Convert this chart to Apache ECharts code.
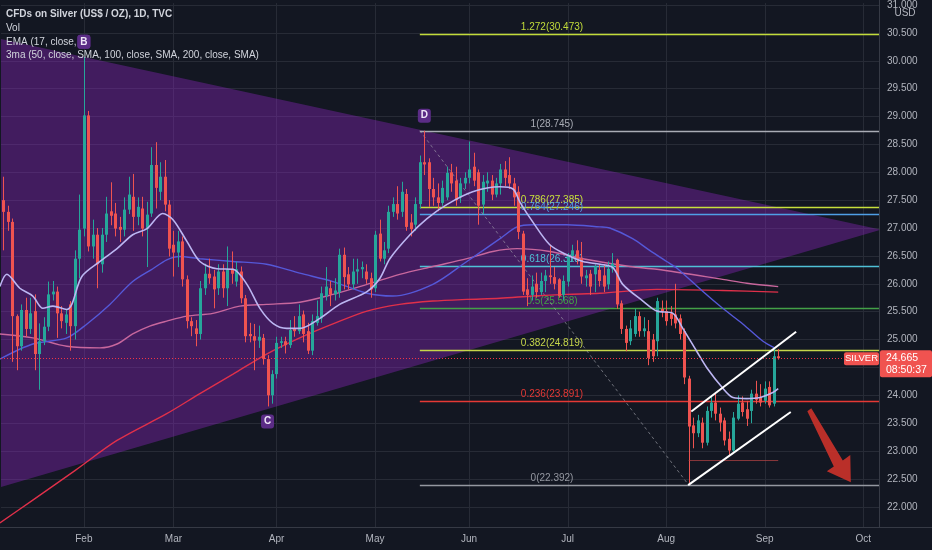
<!DOCTYPE html>
<html>
<head>
<meta charset="utf-8">
<script src="https://cdn.jsdelivr.net/npm/echarts@6.0.0/dist/echarts.min.js"></script>
<style>
html,body{margin:0;padding:0;background:#131722;overflow:hidden}
#chart{width:932px;height:550px}
</style>
</head>
<body>
<div id="chart"></div>
<script>
// ---------------- data ----------------
// bar index t = trading days counted from 2021-02-01 (t = 0); the first category is 2021-01-06 (t = -18)
const FIRST_DAY = '2021-01-06';
const FIRST_T = -18;
const N_DAYS = 196;
const MONTHS = ['Jan','Feb','Mar','Apr','May','Jun','Jul','Aug','Sep','Oct','Nov','Dec'];

// [open, high, low, close], one per trading day from 2021-01-06 to 2021-09-06
const OHLC = [
[27.50,27.92,26.60,27.29],[27.29,27.40,26.95,27.11],[27.11,27.17,24.60,25.42],[25.42,25.45,24.45,24.88],
[24.88,25.63,24.80,25.53],[25.53,25.75,25.05,25.19],[25.19,25.75,25.10,25.47],[25.51,25.81,24.45,24.74],
[24.74,25.29,24.10,24.97],[24.97,25.40,24.90,25.23],[25.23,26.04,25.15,25.81],[25.81,26.05,25.70,25.86],
[25.86,25.95,25.03,25.47],[25.47,25.60,25.20,25.33],[25.30,25.55,25.10,25.45],[25.63,25.69,24.80,25.24],
[25.24,26.60,25.00,26.45],[26.45,27.60,26.10,26.97],
[26.99,30.07,26.85,29.02],[29.02,29.10,26.58,26.67],[26.67,27.15,26.45,26.88],[26.88,27.00,25.92,26.35],
[26.35,27.00,26.20,26.88],[26.88,27.56,26.75,27.26],[27.30,27.82,27.05,27.22],[27.26,27.45,26.85,26.99],
[27.02,27.20,26.75,26.97],[26.97,27.55,26.85,27.33],[27.33,27.92,27.25,27.60],[27.56,27.97,26.95,27.20],
[27.20,27.55,27.05,27.38],[27.35,27.56,26.85,26.99],[26.99,27.47,26.30,27.24],[27.26,28.45,27.20,28.13],
[28.13,28.54,27.35,27.72],[27.65,28.18,27.50,27.92],[27.92,28.22,27.30,27.42],[27.42,27.50,26.49,26.63],
[26.70,26.95,26.13,26.56],[26.56,26.95,26.30,26.76],[26.76,26.85,25.95,26.08],[26.08,26.15,25.20,25.33],
[25.33,25.40,25.06,25.24],[25.20,25.35,24.88,25.10],[25.10,26.05,25.00,25.92],[25.92,26.36,25.80,26.18],
[26.18,26.45,26.00,26.10],[26.13,26.25,25.56,25.90],[25.92,26.35,25.80,26.22],[26.22,26.35,25.75,25.92],
[25.92,26.67,25.60,26.26],[26.27,26.58,26.00,26.18],[26.04,26.40,25.95,26.26],[26.22,26.31,25.65,25.74],
[25.74,25.80,24.95,25.06],[25.10,25.30,24.95,25.06],[25.06,25.28,24.45,24.98],[24.98,25.25,24.85,25.05],
[25.03,25.10,24.55,24.65],[24.65,24.72,23.80,24.00],[24.00,24.45,23.85,24.38],
[24.38,25.05,24.30,24.94],[24.94,25.05,24.85,24.97],[24.97,25.05,24.75,24.90],[24.90,25.35,24.85,25.17],
[25.20,25.42,25.05,25.15],[25.15,25.63,25.10,25.42],[25.45,25.52,24.95,25.10],[25.15,25.30,24.74,24.80],
[24.80,25.45,24.72,25.33],[25.30,25.70,25.25,25.42],[25.38,25.95,25.30,25.83],[25.78,26.30,25.70,25.95],
[25.92,26.05,25.60,25.81],[25.81,26.10,25.70,25.88],[25.85,26.63,25.75,26.52],[26.52,26.65,25.90,26.12],
[26.17,26.30,25.90,25.99],[25.99,26.45,25.90,26.22],[26.22,26.45,26.00,26.26],[26.26,26.40,26.10,26.30],
[26.22,26.35,26.00,26.08],[26.10,26.20,25.75,25.90],
[25.92,26.95,25.85,26.88],[26.90,27.15,26.40,26.45],[26.45,26.75,26.35,26.60],[26.63,27.40,26.55,27.29],
[27.29,27.55,27.20,27.43],[27.43,27.75,27.15,27.26],[27.29,27.83,27.20,27.65],[27.61,27.70,26.95,27.02],
[27.10,27.25,26.85,26.98],[27.06,27.55,26.95,27.43],[27.43,28.30,27.35,28.18],[28.18,28.745,27.95,28.14],
[28.18,28.25,27.38,27.70],[27.70,27.90,27.40,27.55],[27.55,27.80,27.30,27.45],[27.45,27.85,27.40,27.72],
[27.55,28.10,27.50,27.99],[28.00,28.15,27.65,27.80],[27.85,28.10,27.40,27.50],[27.55,27.90,27.45,27.80],
[27.80,28.00,27.70,27.90],
[27.90,28.55,27.80,28.05],[28.10,28.35,27.75,27.85],[28.00,28.05,27.06,27.40],[27.42,27.95,27.25,27.83],
[27.80,28.00,27.65,27.85],[27.85,27.95,27.50,27.60],[27.60,27.90,27.55,27.80],[27.80,28.15,27.60,28.05],
[28.05,28.20,27.75,27.90],[27.95,28.27,27.70,27.80],[27.80,27.90,27.40,27.55],[27.65,27.75,26.80,26.93],
[26.90,26.95,25.80,25.86],[25.90,26.10,25.60,25.80],[25.80,26.15,25.70,25.95],[26.00,26.20,25.75,25.85],
[25.85,26.20,25.80,26.05],[26.05,26.25,25.85,26.15],[26.15,26.70,26.00,26.12],[26.12,26.30,25.90,26.00],
[26.08,26.10,25.75,25.78],[25.80,26.15,25.70,26.05],
[26.04,26.55,25.95,26.52],[26.50,26.70,26.40,26.60],[26.60,26.78,26.35,26.45],[26.45,26.75,26.00,26.13],
[26.10,26.25,25.95,26.15],[26.18,26.25,25.80,25.95],[26.17,26.35,25.85,26.31],[26.25,26.35,25.95,26.05],
[26.15,26.35,25.85,25.95],[25.99,26.40,25.90,26.27],[26.27,26.55,26.20,26.36],[26.43,26.45,25.55,25.63],
[25.65,25.70,25.10,25.19],[25.19,25.25,24.79,24.94],[24.97,25.35,24.90,25.20],[25.10,25.55,25.05,25.42],
[25.42,25.50,25.05,25.15],[25.15,25.40,25.05,25.20],[25.15,25.35,24.54,24.67],[25.00,25.10,24.60,24.70],
[24.97,25.75,24.70,25.69],[25.55,25.70,25.40,25.50],
[25.51,25.70,25.25,25.33],[25.47,25.60,25.25,25.37],[25.45,26.00,25.20,25.29],[25.38,25.45,25.00,25.10],
[25.15,25.20,24.20,24.32],[24.30,24.35,22.392,23.44],[23.46,23.60,23.05,23.32],[23.32,23.65,23.25,23.55],
[23.51,23.60,23.05,23.15],[23.15,23.80,23.10,23.72],[23.72,24.00,23.60,23.87],[23.87,24.05,23.55,23.67],
[23.67,23.78,23.35,23.51],[23.55,23.60,23.10,23.19],[23.22,23.35,22.93,23.01],[23.01,23.70,22.98,23.60],
[23.58,24.00,23.55,23.85],[23.87,23.98,23.62,23.70],[23.75,23.90,23.45,23.58],[23.72,24.10,23.50,24.03],
[24.03,24.26,23.85,23.92],[23.97,24.20,23.80,23.87],
[23.90,24.25,23.85,24.12],[24.15,24.25,23.78,23.82],[23.85,24.83,23.80,24.70],[24.70,24.83,24.64,24.665]
];

// moving averages: [bar index t, price]
const EMA17 = [[-18.75,25.95],[-17.2,26.17],[-14.3,25.92],[-11.4,25.78],[-9.15,25.56],[-6.9,25.60],[-3.8,25.54],[-2.7,25.63],[-0.45,26.13],[3.6,26.40],[7.4,26.63],[10.9,26.88],[14.1,26.99],[17.6,27.26],[19.9,27.15],[23.0,26.76],[25.9,26.40],[29.7,26.27],[33.3,26.26],[36.4,25.99],[39.3,25.56],[42.2,25.29],[45.3,25.20],[48.2,25.20],[52.7,25.38],[57.1,25.63],[63.2,25.86],[66.1,26.10],[68.3,26.45],[72.8,26.88],[76.6,27.17],[81.0,27.42],[86.8,27.65],[92.9,27.74],[95.8,27.70],[97.3,27.47],[100.2,27.11],[104.0,26.70],[107.8,26.52],[111.4,26.40],[115.2,26.35],[118.1,26.29],[120.3,25.99],[124.8,25.69],[127.9,25.51],[131.5,25.47],[133.7,25.20],[136.8,24.79],[139.1,24.49],[142.6,24.13],[144.9,23.96],[148.0,23.94],[150.9,23.96],[153.8,24.05],[155,24.12]];
const SMA50 = [[-18.75,24.65],[-11.4,24.92],[-3.8,25.03],[0.7,25.28],[5.8,25.63],[10.9,26.04],[15.4,26.27],[18.5,26.43],[21.4,26.49],[25.9,26.45],[33.3,26.40],[40.8,26.35],[48.2,26.19],[55.6,26.04],[63.2,25.83],[69.0,25.78],[77.9,25.99],[85.5,26.40],[92.9,26.81],[96.7,27.02],[100.2,27.06],[107.8,27.06],[115.2,27.02],[117.4,27.00],[122.5,26.81],[126.3,26.60],[130.1,26.40],[132.4,26.28],[138.2,25.86],[142.6,25.56],[147.1,25.28],[151.6,24.97],[154.2,24.85]];
const SMA100 = [[-18.75,25.10],[-11.4,25.03],[-3.8,24.88],[3.6,24.85],[7.4,24.92],[10.9,25.10],[14.7,25.24],[18.5,25.33],[23.0,25.42],[28.8,25.47],[34.8,25.60],[40.8,25.63],[48.2,25.67],[55.6,25.81],[63.2,25.99],[70.5,26.17],[77.9,26.31],[85.5,26.45],[91.3,26.58],[96.7,26.63],[104.0,26.58],[111.4,26.45],[121.9,26.31],[127.9,26.26],[142.6,26.08],[148.0,26.01],[155,25.95]];
const SMA200 = [[-18.75,21.71],[-11.4,22.12],[-2.0,22.65],[7.4,23.19],[18.5,23.67],[25.9,24.03],[33.3,24.38],[40.8,24.74],[48.2,25.03],[55.6,25.28],[63.2,25.51],[70.5,25.63],[77.9,25.69],[85.5,25.72],[92.9,25.74],[100.2,25.78],[107.8,25.81],[115.2,25.83],[127.9,25.90],[142.6,25.88],[155,25.85]];

// Fibonacci retracement
const FIB_LEVELS = ['1.272','1','0.786','0.764','0.618','0.5','0.382','0.236','0'];
const FIB_PRICES = [30.473,28.745,27.385,27.246,26.318,25.568,24.819,23.891,22.392];
const FIB_COLORS = ['#c2dc3a','#a9acb5','#c8e03c','#4f9fe6','#4fc0d6','#43a047','#c6d64a','#e53935','#9598a1'];
const FIB_START_T = 75;
const FIB_LABEL_T = 104.5;
const FIB_TREND = [[75,28.745],[135,22.392]];

// drawings (data coordinates: [t, price])
const TRIANGLE = [[-19,30.40],[178,26.97],[-19,22.345]];
const PATTERN_POINTS = [['B',0,30.07,-1],['C',41,23.80,1],['D',76,28.745,-1]];
const CHANNEL_UPPER = [[135.6,23.71],[159.0,25.14]];
const CHANNEL_LOWER = [[134.9,22.39],[157.8,23.70]];
const ARROW = [[161.50,23.715],[162.39,23.768],[169.42,22.832],[171.09,22.930],[171.21,22.440],[165.85,22.636],[167.41,22.725]];
const LEVEL_LINE = [[135,22.83],[155,22.83]];
const LAST_PRICE = 24.665;
const COUNTDOWN = '08:50:37';
const SYMBOL = 'SILVER';
const LEGEND_LINES = ['CFDs on Silver (US$ / OZ), 1D, TVC','Vol','EMA (17, close, 0)','3ma (50, close, SMA, 100, close, SMA, 200, close, SMA)'];

// axis extents
const Y_MIN = 21.638, Y_MAX = 31.035;
const X_MIN = -18.5, X_MAX = 177.5;

// ---------------- helpers ----------------
function tradingDays(start, n){
  const out=[]; const d=new Date(start+'T00:00:00Z');
  while(out.length<n){ const wd=d.getUTCDay(); if(wd!==0&&wd!==6) out.push(d.toISOString().slice(0,10)); d.setUTCDate(d.getUTCDate()+1); }
  return out;
}
const DATES = tradingDays(FIRST_DAY, N_DAYS);
const MONTH_START_IDX = [];
for(let i=1;i<DATES.length;i++){ if(DATES[i].slice(5,7)!==DATES[i-1].slice(5,7)) MONTH_START_IDX.push(i); }
const MONTH_START_SET = new Set(MONTH_START_IDX);
const candleData = OHLC.map((d,i)=>[FIRST_T+i, d[0], d[1], d[2], d[3]]);

const AXIS_FONT = "'Liberation Sans',sans-serif";
const TEXT_FONT = "'Liberation Sans',sans-serif";
const crisp = v => Math.round(v)+0.5;
const ln = (a,b,style)=>({type:'line',shape:{x1:a[0],y1:a[1],x2:b[0],y2:b[1]},style});

const chart = echarts.init(document.getElementById('chart'), null, {renderer:'canvas'});

const option = {
  backgroundColor:'#131722',
  animation:false,
  grid:{left:1,right:53,top:0,bottom:23,containLabel:false},
  xAxis:[
    {type:'category',data:DATES,boundaryGap:true,
     axisLine:{show:false},axisTick:{show:false},splitLine:{show:false},
     axisLabel:{interval:(i)=>MONTH_START_SET.has(i),formatter:v=>MONTHS[+v.slice(5,7)-1],
       color:'#b2b5be',fontSize:10,fontFamily:AXIS_FONT,margin:7}},
    {type:'value',min:X_MIN,max:X_MAX,show:false}
  ],
  yAxis:{type:'value',position:'right',min:Y_MIN,max:Y_MAX,splitNumber:19,minInterval:0.5,maxInterval:0.5,
    axisLine:{show:false},axisTick:{show:false},
    axisLabel:{color:'#b2b5be',fontSize:10,fontFamily:AXIS_FONT,margin:8,formatter:v=>v.toFixed(3),showMinLabel:false,showMaxLabel:false},
    splitLine:{show:true,showMinLine:false,showMaxLine:false,lineStyle:{color:'#272b36',width:1}}},
  series:[
    // month grid lines
    {type:'custom',xAxisIndex:1,z:1,silent:true,
     data:MONTH_START_IDX.map(i=>[FIRST_T+i,Y_MIN]),
     renderItem:(p,api)=>{const t=api.value(0);const a=api.coord([t,Y_MAX]);const b=api.coord([t,Y_MIN]);
       return ln([crisp(a[0]),a[1]],[crisp(b[0]),b[1]],{stroke:'#272b36',lineWidth:1});}},
    // triangle pattern fill
    {type:'custom',xAxisIndex:1,z:2,clip:true,silent:true,data:[[0,25]],
     renderItem:(p,api)=>({type:'polygon',shape:{points:TRIANGLE.map(q=>api.coord(q))},style:{fill:'rgba(149,40,204,0.36)'}})},
    // fibonacci
    {type:'custom',xAxisIndex:1,z:3,clip:true,silent:true,
     data:FIB_PRICES.map((pr,i)=>[i,pr]),
     renderItem:(p,api)=>{const i=api.value(0);const pr=FIB_PRICES[i];const col=FIB_COLORS[i];
       const a=api.coord([FIB_START_T,pr]);const b=api.coord([X_MAX,pr]);const m=api.coord([FIB_LABEL_T,pr]);
       const y=crisp(a[1]);
       return {type:'group',children:[
         ln([a[0],y],[b[0],y],{stroke:col,lineWidth:1.3}),
         {type:'text',x:m[0],y:y-7,style:{text:FIB_LEVELS[i]+'('+pr.toFixed(3)+')',fill:col,font:'10px '+TEXT_FONT,align:'center',verticalAlign:'middle'}}
       ]};}},
    // fib trend line
    {type:'custom',xAxisIndex:1,z:3,silent:true,data:[[0,25]],
     renderItem:(p,api)=>ln(api.coord(FIB_TREND[0]),api.coord(FIB_TREND[1]),{stroke:'rgba(170,172,180,0.6)',lineWidth:1,lineDash:[3,3]})},
    // moving averages
    {name:'SMA200',type:'line',xAxisIndex:1,data:SMA200,showSymbol:false,smooth:0.3,z:4,silent:true,lineStyle:{color:'#e0304a',width:1.4}},
    {name:'SMA100',type:'line',xAxisIndex:1,data:SMA100,showSymbol:false,smooth:0.3,z:4,silent:true,lineStyle:{color:'#c8679d',width:1.4}},
    {name:'SMA50',type:'line',xAxisIndex:1,data:SMA50,showSymbol:false,smooth:0.3,z:4,silent:true,lineStyle:{color:'#5558d8',width:1.4}},
    // candles
    {type:'custom',xAxisIndex:1,z:5,clip:true,silent:true,data:candleData,
     dimensions:['t','open','high','low','close'],encode:{x:0,y:[1,2,3,4]},
     renderItem:(p,api)=>{const t=api.value(0),o=api.value(1),h=api.value(2),l=api.value(3),c=api.value(4);
       const pO=api.coord([t,o]),pC=api.coord([t,c]),pH=api.coord([t,h]),pL=api.coord([t,l]);
       const col=c>=o?'#26a69a':'#ef5350';const cx=Math.round(pO[0]);
       const top=Math.min(pO[1],pC[1]),bot=Math.max(pO[1],pC[1]);
       return {type:'group',children:[
         ln([cx+0.5,pH[1]],[cx+0.5,pL[1]],{stroke:col,lineWidth:1}),
         {type:'rect',shape:{x:cx-1,y:top,width:3,height:Math.max(bot-top,1)},style:{fill:col}}
       ]};}},
    {name:'EMA17',type:'line',xAxisIndex:1,data:EMA17,showSymbol:false,smooth:0.3,z:6,silent:true,lineStyle:{color:'#bcb6f2',width:1.6}},
    // drawings
    {type:'custom',xAxisIndex:1,z:7,clip:true,silent:true,data:[[0,25]],
     renderItem:(p,api)=>{
       const pl=api.coord([X_MIN,LAST_PRICE]),pr=api.coord([X_MAX,LAST_PRICE]);const yl=crisp(pl[1]);
       const kids=[
         ln([pl[0],yl],[pr[0],yl],{stroke:'#f23645',lineWidth:1,lineDash:[1,2]}),
         ln(api.coord(LEVEL_LINE[0]),api.coord(LEVEL_LINE[1]),{stroke:'rgba(190,70,70,0.7)',lineWidth:1}),
         ln(api.coord(CHANNEL_UPPER[0]),api.coord(CHANNEL_UPPER[1]),{stroke:'#ffffff',lineWidth:2}),
         ln(api.coord(CHANNEL_LOWER[0]),api.coord(CHANNEL_LOWER[1]),{stroke:'#ffffff',lineWidth:2}),
         {type:'polygon',shape:{points:ARROW.map(q=>api.coord(q))},style:{fill:'rgba(205,50,42,0.9)'}}
       ];
       PATTERN_POINTS.forEach(([lab,t,price,dir])=>{const q=api.coord([t,price]);const cy=q[1]+dir*15;
         kids.push({type:'rect',shape:{x:q[0]-6.5,y:cy-7,width:13,height:14,r:3},style:{fill:'#5b2c86'}});
         kids.push({type:'text',x:q[0],y:cy,style:{text:lab,fill:'#eee6f7',font:'bold 10px '+TEXT_FONT,align:'center',verticalAlign:'middle'}});
       });
       return {type:'group',children:kids};}}
  ]
};
chart.setOption(option);

// price-axis tags and chrome
const yLast = chart.convertToPixel({yAxisIndex:0}, LAST_PRICE);
const g = [
  {type:'rect',shape:{x:0,y:527,width:932,height:1},style:{fill:'#363a45'},z:10},
  {type:'rect',shape:{x:879,y:0,width:1,height:527},style:{fill:'#363a45'},z:10},
  {type:'text',x:905,y:13,style:{text:'USD',fill:'#b2b5be',font:'10px '+AXIS_FONT,align:'center',verticalAlign:'middle'},z:10},
  {type:'rect',shape:{x:880,y:yLast-8,width:52,height:27,r:2},style:{fill:'#f05350'},z:10},
  {type:'text',x:886,y:yLast,style:{text:LAST_PRICE.toFixed(3),fill:'#ffffff',font:'10.5px '+AXIS_FONT,verticalAlign:'middle'},z:11},
  {type:'text',x:886,y:yLast+12,style:{text:COUNTDOWN,fill:'#ffffff',font:'10.5px '+AXIS_FONT,verticalAlign:'middle'},z:11},
  {type:'rect',shape:{x:844,y:yLast-6,width:35,height:13,r:2},style:{fill:'#f05350'},z:10},
  {type:'text',x:861.5,y:yLast+0.5,style:{text:SYMBOL,fill:'#ffffff',font:'9.5px '+TEXT_FONT,align:'center',verticalAlign:'middle'},z:11}
];
const legendY=[14,28,42,55];
LEGEND_LINES.forEach((s,i)=>g.push({type:'text',x:6,y:legendY[i],z:9,
  style:{text:s,fill:'#d1d4dc',font:(i===0?'bold ':'')+'10px '+TEXT_FONT,verticalAlign:'middle'}}));
// B pattern label drawn above the legend text
const bp = chart.convertToPixel({xAxisIndex:1,yAxisIndex:0},[PATTERN_POINTS[0][1],PATTERN_POINTS[0][2]]);
g.push({type:'rect',shape:{x:bp[0]-6.5,y:bp[1]-22,width:13,height:14,r:3},style:{fill:'#5b2c86'},z:12});
g.push({type:'text',x:bp[0],y:bp[1]-15,style:{text:'B',fill:'#eee6f7',font:'bold 10px '+TEXT_FONT,align:'center',verticalAlign:'middle'},z:13});
chart.setOption({graphic:g});
</script>
</body>
</html>
